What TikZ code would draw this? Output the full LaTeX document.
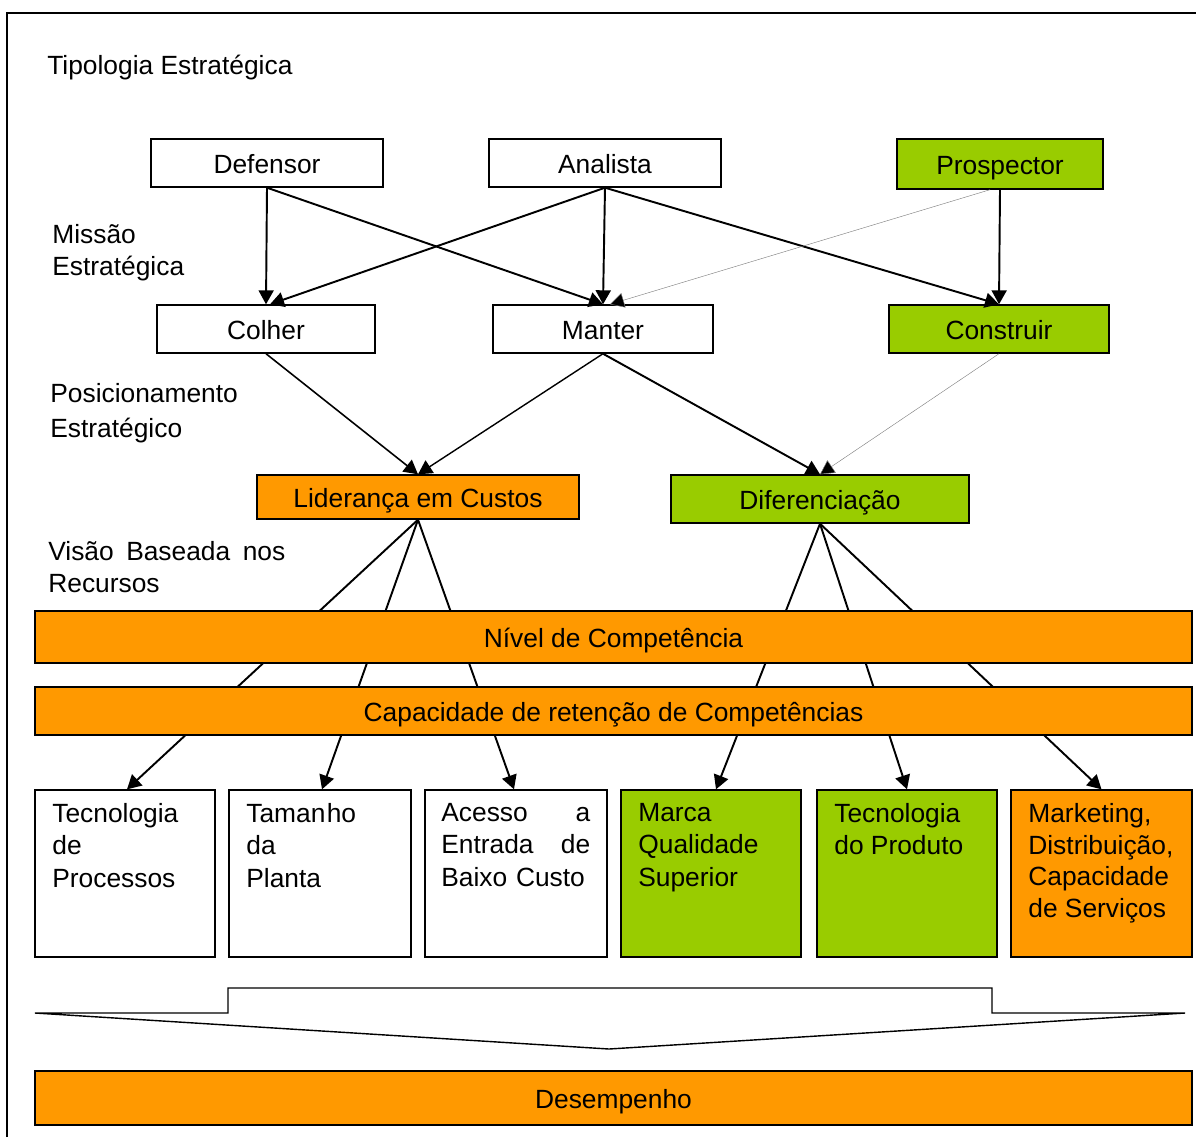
\documentclass[tikz,border=0pt]{standalone}
\usepackage{fontspec}
\setmainfont{Liberation Sans}
\usepackage{xcolor}
\usetikzlibrary{arrows.meta}
\definecolor{verde}{HTML}{99CC00}
\definecolor{laranja}{HTML}{FF9900}

\begin{document}
\begin{tikzpicture}[x=0.02cm,y=-0.02cm,
  font=\fontsize{15}{18}\selectfont,
  box/.style={draw,line width=0.8pt,inner sep=0pt,minimum height=0.96cm,
    text height=1.2em,text depth=0pt},
  bar/.style={box,fill=laranja,minimum width=23.14cm},
  leaf/.style={box,minimum width=3.6cm,minimum height=3.34cm},
  leaftext/.style={anchor=north west,inner sep=0pt,align=left},
  lbl/.style={anchor=north west,inner sep=0pt,align=left},
  arr/.style={line width=1.1pt,-{Triangle[length=0.28cm,width=0.3cm]}},
  thin/.style={line width=0.25pt,draw=gray,-{Triangle[length=0.28cm,width=0.3cm,fill=black]}}]
  \useasboundingbox (0,0) rectangle (1196,1137);
  % ---- frame ----
  \draw[line width=0.8pt] (7,1137) -- (7,13) -- (1196,13);
  % ---- level labels ----
  \node[anchor=west,inner sep=0pt] (tipo) at (47,68) {Tipologia Estratégica};
  \node[lbl] (missao) at (52,224) {Missão\\ Estratégica};
  \node[lbl] (posic)  at (50,383) {Posicionamento\\[2pt] Estratégico};
  \node[lbl,text width=4.74cm] (visao) at (48,541) {Visão\hfill Baseada\hfill nos\\ Recursos};
  % ---- strategic typology ----
  \node[box,minimum width=4.64cm] (def)  at (267,163)  {Defensor};
  \node[box,minimum width=4.64cm] (ana)  at (605,163)  {Analista};
  \node[box,fill=verde,minimum width=4.12cm,minimum height=1cm] (pro) at (1000,164) {Prospector};
  % ---- strategic mission ----
  \node[box,minimum width=4.36cm] (col)  at (266,329)  {Colher};
  \node[box,minimum width=4.4cm]  (man)  at (603,329)  {Manter};
  \node[box,fill=verde,minimum width=4.4cm] (con) at (999,329) {Construir};
  % ---- positioning ----
  \node[box,fill=laranja,minimum width=6.44cm,minimum height=0.88cm] (lid) at (418,497) {Liderança em Custos};
  \node[box,fill=verde,minimum width=5.96cm] (dif) at (820,499) {Diferenciação};
  % ---- resources ----
  \node[leaf] (tp)  at (125,873.5) {};
  \node[leaf,minimum width=3.64cm] (tam) at (320,873.5) {};
  \node[leaf,minimum width=3.64cm] (ace) at (516,873.5) {};
  \node[leaf,fill=verde] (mar) at (711,873.5) {};
  \node[leaf,fill=verde] (tpr) at (907,873.5) {};
  \node[leaf,fill=laranja,minimum width=3.62cm] (mkt) at (1101.5,873.5) {};
  \node[leaftext] (tp-t)  at (52,803)  {Tecnologia\\ de\\[1pt] Processos};
  \node[leaftext] (tam-t) at (246,803) {Taman\kern0.8pt ho\\ da\\[1pt] Planta};
  \node[leaftext,text width=2.98cm] (ace-t) at (441,803) {Acesso\hfill a\\ Entrada\hfill de\\[1pt] Baixo Custo};
  \node[leaftext] (mar-t) at (638,803) {Marca\\ Qualidade\\[1pt] Superior};
  \node[leaftext] (tpr-t) at (834,803) {Tecnologia\\ do Produto};
  \node[leaftext] (mkt-t) at (1028,803) {Marketing,\\ Distribuição,\\ Capacidade\\ de Serviços};
  % ---- connectors ----
  \draw[arr] (def.south) -- (col.north);
  \draw[arr] (def.south) -- (man.north);
  \draw[arr] (ana.south) -- ([xshift=0.08cm]col.north);
  \draw[arr] (ana.south) -- (man.north);
  \draw[arr] (ana.south) -- (con.north);
  \draw[arr] (pro.south) -- (con.north);
  \draw[thin] ([xshift=-0.2cm]pro.south) -- ([xshift=0.14cm]man.north);
  \draw[arr,line width=0.9pt] (col.south) -- (lid.north);
  \draw[arr,line width=0.8pt] (man.south) -- (lid.north);
  \draw[arr] (man.south) -- (dif.north);
  \draw[thin] (con.south) -- (dif.north);
  \draw[arr] (lid.south) -- ([xshift=0.04cm]tp.north);
  \draw[arr] (lid.south) -- ([xshift=0.04cm]tam.north);
  \draw[arr] (lid.south) -- ([xshift=-0.04cm]ace.north);
  \draw[arr] (dif.south) -- ([xshift=0.1cm]mar.north);
  \draw[arr] (dif.south) -- (tpr.north);
  \draw[arr] (dif.south) -- (mkt.north);
  % ---- competence bars (over the lines) ----
  \node[bar,minimum height=1.04cm] (niv) at (613.5,637) {Nível de Competência};
  \node[bar] (cap) at (613.5,711) {Capacidade de retenção de Competências};
  % ---- big arrow and performance ----
  \draw[line width=0.8pt,fill=white] (35,1013) -- (228,1013) -- (228,988) -- (992,988)
    -- (992,1013) -- (1185,1013) -- (609,1049) -- cycle;
  \node[bar,minimum height=1.08cm] (des) at (613.5,1098) {Desempenho};
\end{tikzpicture}
\end{document}
